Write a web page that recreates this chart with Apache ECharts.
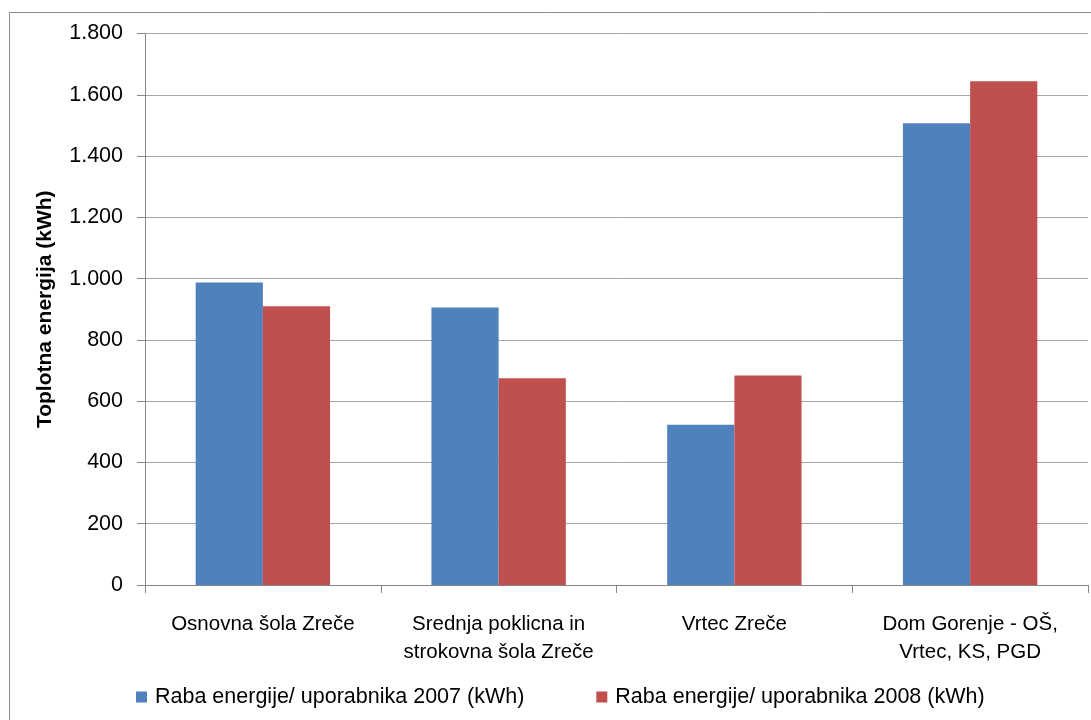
<!DOCTYPE html>
<html>
<head>
<meta charset="utf-8">
<script src="https://cdn.jsdelivr.net/npm/echarts@6/dist/echarts.min.js"></script>
<style>
  html, body { margin: 0; padding: 0; background: #fff; }
  #chart { width: 1091px; height: 720px; }
</style>
</head>
<body>
<div id="chart"></div>
<script>
// Heat energy per user, by building, 2007 vs 2008
const categories = [
  'Osnovna šola Zreče',
  'Srednja poklicna in\nstrokovna šola Zreče',
  'Vrtec Zreče',
  'Dom Gorenje - OŠ,\nVrtec, KS, PGD'
];
const seriesNames = [
  'Raba energije/ uporabnika 2007 (kWh)',
  'Raba energije/ uporabnika 2008 (kWh)'
];
const values2007 = [987, 906, 523, 1507];
const values2008 = [910, 675, 684, 1644];
const yTicks = { min: 0, max: 1800, interval: 200 };

const FONT = 'Liberation Sans';
const colors = ['#4F81BD', '#C0504D'];

// thousands separator as a dot
function fmt(v) {
  return String(v).replace(/\B(?=(\d{3})+(?!\d))/g, '.');
}

const chart = echarts.init(document.getElementById('chart'), null, { renderer: 'canvas' });
chart.setOption({
  backgroundColor: '#ffffff',
  animation: false,
  color: colors,
  textStyle: { fontFamily: FONT },
  graphic: [{
    type: 'rect',
    shape: { x: 9.5, y: 12.5, width: 1200, height: 800 },
    style: { fill: 'none', stroke: '#8c8c8c', lineWidth: 1 },
    silent: true
  }],
  grid: { left: 145, right: 3, top: 33.5, bottom: 135, containLabel: false },
  legend: {
    top: 686,
    left: 136,
    padding: 0,
    itemWidth: 11,
    itemHeight: 11,
    itemGap: 72,
    icon: 'rect',
    textStyle: { fontFamily: FONT, fontSize: 21.5, color: '#000', padding: [0, 0, 0, 3] },
    data: seriesNames
  },
  xAxis: {
    type: 'category',
    data: categories,
    axisLine: { lineStyle: { color: '#868686', width: 1 } },
    axisTick: { show: true, length: 8, alignWithLabel: false, lineStyle: { color: '#868686' } },
    axisLabel: {
      fontFamily: FONT, fontSize: 20.5, color: '#000', margin: 25, lineHeight: 28, interval: 0
    }
  },
  yAxis: {
    type: 'value',
    min: yTicks.min,
    max: yTicks.max,
    interval: yTicks.interval,
    name: 'Toplotna energija (kWh)',
    nameLocation: 'middle',
    nameGap: 89,
    nameTextStyle: { fontFamily: FONT, fontSize: 21, fontWeight: 'bold', color: '#000' },
    axisLine: { show: true, lineStyle: { color: '#868686', width: 1 } },
    axisTick: { show: true, length: 8, lineStyle: { color: '#868686' } },
    axisLabel: {
      fontFamily: FONT, fontSize: 21.5, color: '#000', margin: 22,
      formatter: fmt
    },
    splitLine: { show: true, lineStyle: { color: '#a6a6a6', width: 1 } }
  },
  series: [
    {
      name: seriesNames[0], type: 'bar', data: values2007,
      barGap: '0%', barCategoryGap: '43%',
      itemStyle: { color: colors[0] }
    },
    {
      name: seriesNames[1], type: 'bar', data: values2008,
      barGap: '0%', barCategoryGap: '43%',
      itemStyle: { color: colors[1] }
    }
  ]
});
</script>
</body>
</html>
